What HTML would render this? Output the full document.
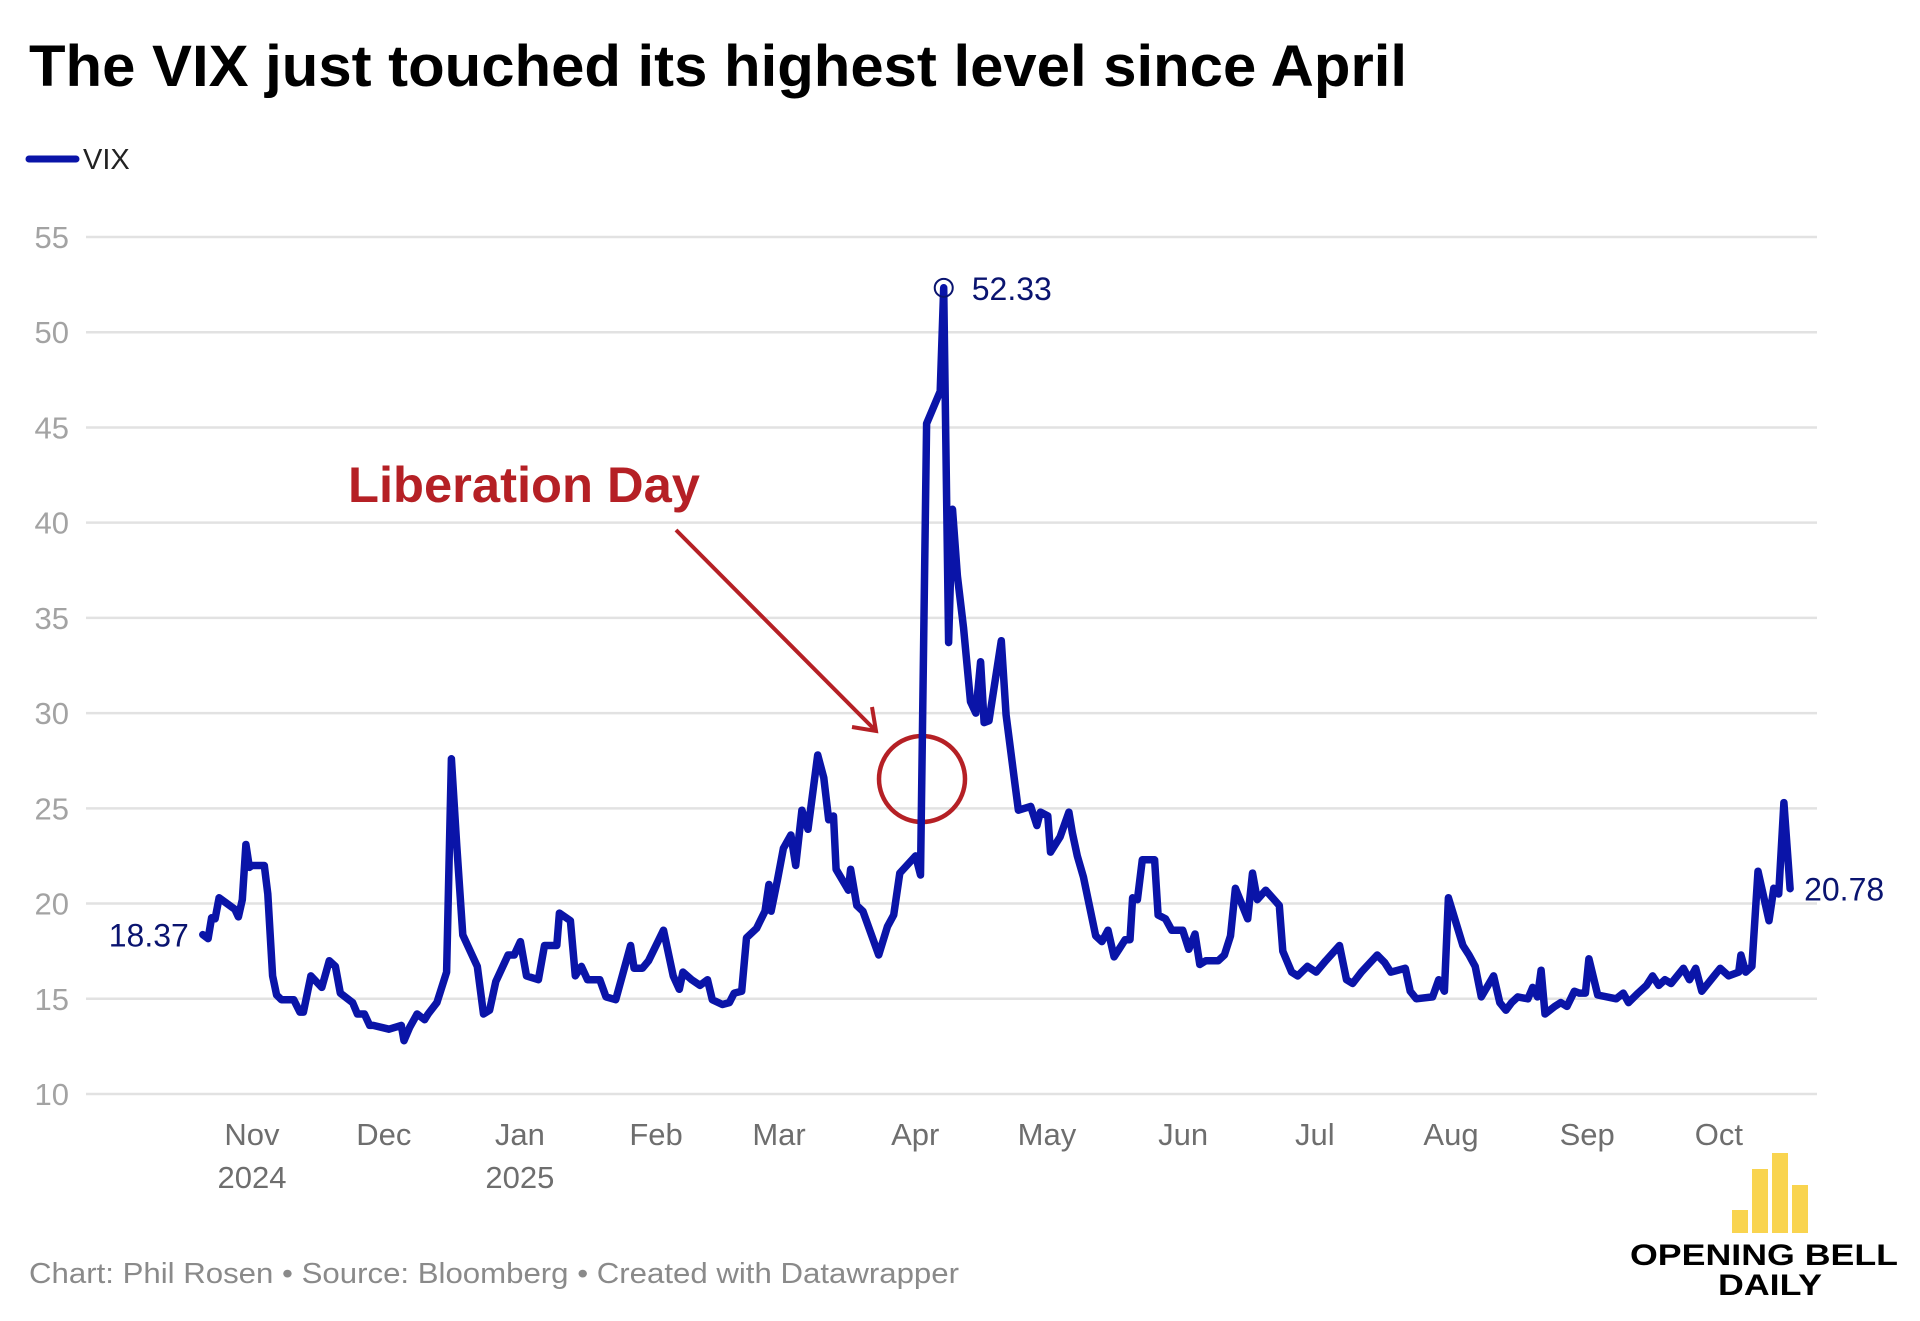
<!DOCTYPE html>
<html><head><meta charset="utf-8"><style>
html,body{margin:0;padding:0;background:#fff;}
svg{display:block;font-family:"Liberation Sans",sans-serif;}
</style></head><body>
<svg id="chart" width="1920" height="1321" viewBox="0 0 1920 1321">
<text x="29" y="86" font-size="58" font-weight="bold" fill="#000" textLength="1378" lengthAdjust="spacingAndGlyphs">The VIX just touched its highest level since April</text>
<g>
<line x1="29" y1="159" x2="76" y2="159" stroke="#0a14a8" stroke-width="7" stroke-linecap="round"/>
<text x="83" y="169" font-size="29" fill="#222">VIX</text>
</g>
<g id="grid"></g>
<g id="yticks"></g>
<g id="xticks"></g>
<g>
<text x="348" y="502" font-size="50" font-weight="bold" fill="#b52025" textLength="352" lengthAdjust="spacingAndGlyphs">Liberation Day</text>
<line x1="676" y1="530" x2="874" y2="729" stroke="#b52025" stroke-width="4"/>
<polyline points="852,727 876,731 872,707" fill="none" stroke="#b52025" stroke-width="4"/>
<circle cx="922" cy="779" r="43" fill="none" stroke="#b52025" stroke-width="4.5"/>
</g>
<g id="series"></g>
<text x="29" y="1283" font-size="29" fill="#8a8a8a" textLength="930" lengthAdjust="spacingAndGlyphs">Chart: Phil Rosen • Source: Bloomberg • Created with Datawrapper</text>
<g>
<rect x="1732" y="1210" width="16" height="23" fill="#f9d44f"/>
<rect x="1752" y="1169" width="16" height="64" fill="#f9d44f"/>
<rect x="1772" y="1153" width="16" height="80" fill="#f9d44f"/>
<rect x="1792" y="1185" width="16" height="48" fill="#f9d44f"/>
<text x="1630" y="1265" font-size="30" font-weight="bold" fill="#000" textLength="268" lengthAdjust="spacingAndGlyphs">OPENING BELL</text>
<text x="1718" y="1295" font-size="30" font-weight="bold" fill="#000" textLength="104" lengthAdjust="spacingAndGlyphs">DAILY</text>
</g>
</svg>
<script>
// days since 2024-11-01
const days = [-11.2,-10,-9.2,-8.4,-7.5,-3.9,-3.1,-2.2,-1.4,-0.6,0,2.8,3.6,4.7,5.6,6.7,9.5,10.9,11.7,13.4,15.9,17.6,19,20.1,22.9,24,25.6,26.8,27.6,31.2,34,34.6,35.9,37.6,39.3,40.1,42.1,44.3,45.4,46.6,48,51.3,52.7,54.1,55.5,58.3,59.7,61.1,62.5,65.2,66.6,69.4,70,72.5,73.6,75,76.4,79.2,80.6,82.8,86.2,87,88.9,90.3,93.7,95.9,97.3,98.1,100.1,102,103.7,104.8,107.1,108.7,109.8,111.5,112.6,114.9,116.8,117.7,118.2,119.6,121,122.7,123.8,125.2,126.6,128.8,130.2,131.3,132.4,133,135.8,136.3,137.7,139.1,142.7,144.7,146.1,147.5,151.1,152.2,153.6,156.7,157.5,158.6,159.5,160.6,162,163.6,164.8,165.9,166.7,167.8,170.6,171.7,173.7,174.5,177.3,178.7,179.5,181.2,181.8,184,186,186.8,187.9,189.3,192.1,193.5,194.9,196.3,197.4,198.8,199.9,200.5,201.6,202.7,205.5,206.3,208,209.4,211.9,213.3,214.7,215.8,217.2,220,221.4,222.8,223.9,226.7,227.8,228.9,230.8,233.9,234.7,236.7,238.1,240.3,242.3,244.5,247.6,249.2,250.6,252.6,256.2,257.9,259.3,262.6,263.7,265.1,268.8,270.2,271.5,272.4,275.7,277.1,278.5,279.9,282.7,284.1,285.5,286.8,288.2,290.5,291.6,292.7,293.5,294.4,296.6,298,299.4,301.1,302.2,303.6,304.4,306.4,310.6,312.2,313.4,315.6,317.5,318.9,320.3,321.7,323.1,325.9,327.3,328.7,330.1,332.9,334.3,336.2,338.5,339,340.1,341.5,342.9,345.4,346.5,347.6,348.8,350.2];
const vix = [18.37,18.16,19.25,19.2,20.3,19.7,19.3,20.2,23.1,21.9,22.0,22.0,20.5,16.2,15.2,14.95,14.95,14.3,14.3,16.2,15.6,17.0,16.7,15.3,14.8,14.2,14.2,13.6,13.6,13.4,13.6,12.8,13.5,14.2,13.9,14.2,14.8,16.4,27.6,23.1,18.35,16.7,14.2,14.4,15.9,17.3,17.3,18.0,16.2,16.0,17.8,17.8,19.5,19.1,16.2,16.7,16.0,16.0,15.1,14.95,17.8,16.6,16.6,17.0,18.6,16.2,15.5,16.4,16.0,15.7,16.0,14.95,14.7,14.8,15.3,15.4,18.2,18.7,19.6,21.0,19.6,21.2,22.9,23.6,22.0,24.9,23.9,27.8,26.6,24.4,24.6,21.8,20.7,21.8,19.9,19.6,17.3,18.8,19.4,21.6,22.5,21.5,45.2,46.9,52.33,33.7,40.7,37.2,34.5,30.6,30.0,32.7,29.5,29.6,33.8,29.9,26.3,24.9,25.1,24.1,24.8,24.6,22.7,23.5,24.8,23.7,22.5,21.4,18.3,18.0,18.6,17.2,17.6,18.1,18.1,20.3,20.2,22.3,22.3,19.4,19.2,18.6,18.6,17.6,18.4,16.8,17.0,17.0,17.3,18.3,20.8,19.2,21.6,20.2,20.7,19.9,17.5,16.4,16.2,16.7,16.4,17.0,17.8,16.0,15.8,16.4,17.3,16.9,16.4,16.6,15.4,15.0,15.1,16.0,15.4,20.3,17.8,17.3,16.7,15.1,16.2,14.8,14.4,14.8,15.1,15.0,15.6,15.1,16.5,14.2,14.6,14.8,14.6,15.4,15.3,15.3,17.1,15.2,15.0,15.3,14.8,15.3,15.7,16.2,15.7,16.0,15.8,16.6,16.0,16.6,15.4,16.2,16.6,16.2,16.4,17.3,16.4,16.7,21.7,19.1,20.8,20.5,25.3,20.78];
const yTicks = [10,15,20,25,30,35,40,45,50,55];
const monthLabels = ["Nov","Dec","Jan","Feb","Mar","Apr","May","Jun","Jul","Aug","Sep","Oct"];
const monthDays = [0,30,61,92,120,151,181,212,242,273,304,334];
const yearLabels = ["2024","","2025","","","","","","","","",""];

const NS="http://www.w3.org/2000/svg";
const X0=252, PXD=4.392, Y55=237, Y10=1094;
const xs=d=>X0+d*PXD;
const ys=v=>Y10-(v-10)*(Y10-Y55)/45;
function mk(tag,attrs,parent){const e=document.createElementNS(NS,tag);for(const k in attrs)e.setAttribute(k,attrs[k]);parent.appendChild(e);return e;}
const grid=document.getElementById('grid'), yt=document.getElementById('yticks'), xt=document.getElementById('xticks'), ser=document.getElementById('series');
yTicks.forEach(t=>{
  const l=mk('line',{x1:86,x2:1817,y1:ys(t),y2:ys(t),stroke:'#e2e2e2','stroke-width':2.5},grid);
  
  
  const tx=mk('text',{x:69,y:ys(t)+11,'font-size':31,fill:'#a3a3a3','text-anchor':'end'},yt);
  tx.textContent=t;
  
  
});
monthLabels.forEach((m,i)=>{
  const tx=mk('text',{x:xs(monthDays[i]),y:1145,'font-size':31,fill:'#6e6e6e','text-anchor':'middle'},xt);
  tx.textContent=m;
  
  
  if(yearLabels[i]){
    const ty=mk('text',{x:xs(monthDays[i]),y:1188,'font-size':31,fill:'#6e6e6e','text-anchor':'middle'},xt);
    ty.textContent=yearLabels[i];
    
    
  }
});
const pts=days.map((d,i)=>xs(d).toFixed(1)+','+ys(vix[i]).toFixed(1)).join(' ');
const pl=mk('polyline',{points:pts,fill:'none',stroke:'#0a14a8','stroke-width':7.5,'stroke-linejoin':'round','stroke-linecap':'round'},ser);


let pi=0;vix.forEach((v,i)=>{if(v>vix[pi])pi=i;});
const pc=mk('circle',{cx:xs(days[pi]),cy:ys(vix[pi]),r:9,fill:'none',stroke:'#0a1470','stroke-width':2},ser);


const pt=mk('text',{x:xs(days[pi])+28,y:ys(vix[pi])+12,'font-size':32,fill:'#0a1470'},ser);
pt.textContent=vix[pi].toFixed(2);


const st=mk('text',{x:xs(days[0])-14,y:ys(vix[0])+12,'font-size':32,fill:'#0a1470','text-anchor':'end'},ser);
st.textContent=vix[0].toFixed(2);


const n=vix.length-1;
const et=mk('text',{x:xs(days[n])+14,y:ys(vix[n])+12,'font-size':32,fill:'#0a1470'},ser);
et.textContent=vix[n].toFixed(2);


</script>
</body></html>
